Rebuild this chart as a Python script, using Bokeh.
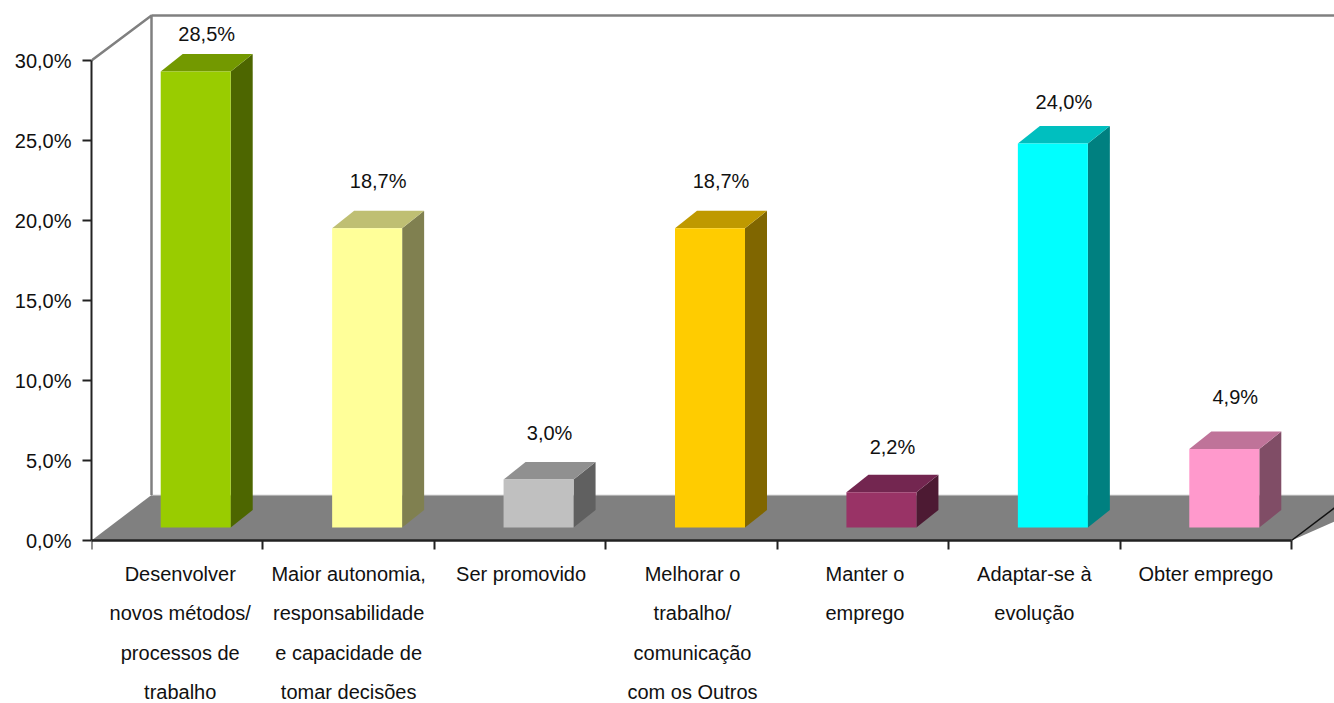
from bokeh.plotting import figure
from bokeh.embed import file_html
from bokeh.resources import INLINE
from bokeh.models import Range1d, LinearAxis, FixedTicker, Label
from bokeh.core.properties import value

# ---- data ----
categories = [
    "Desenvolver\nnovos métodos/\nprocessos de\ntrabalho",
    "Maior autonomia,\nresponsabilidade\ne capacidade de\ntomar decisões",
    "Ser promovido",
    "Melhorar o\ntrabalho/\ncomunicação\ncom os Outros",
    "Manter o\nemprego",
    "Adaptar-se à\nevolução",
    "Obter emprego",
]
values = [28.5, 18.7, 3.0, 18.7, 2.2, 24.0, 4.9]
value_labels = ["28,5%", "18,7%", "3,0%", "18,7%", "2,2%", "24,0%", "4,9%"]
y_ticks = [0, 5, 10, 15, 20, 25, 30]
y_tick_labels = ["0,0%", "5,0%", "10,0%", "15,0%", "20,0%", "25,0%", "30,0%"]
front_colors = ["#99CC00", "#FFFF99", "#C0C0C0", "#FFCC00", "#993366", "#00FFFF", "#FF99CC"]
top_colors = ["#739900", "#BFBF73", "#909090", "#BF9900", "#732650", "#00BFBF", "#BF7399"]
side_colors = ["#4D6600", "#808050", "#606060", "#806600", "#4D1A33", "#008080", "#804D66"]

# ---- layout (pixels) ----
W, H = 1334, 703
AX_L, AX_B = 91, 540
PX_Y = 16.0            # pixels per percentage point
PX_CAT = 1200 / 7      # pixels per category
FONT = "Liberation Sans"
FS = "20px"
LINE_STEP = 39.5
ux = 1 / PX_CAT
uy = 1 / PX_Y
DX, DY = 60 * ux, 45.5 * uy          # chart depth
BAR_DX, BAR_DY = 22 * ux, 17.5 * uy  # bar depth
BAR_W = 70 * ux
BAR_SHIFT = 18.5 * ux
BAR_BASE = 13 * uy
label_lift = [20, 30, 29, 30, 28, 24, 35]   # px above the bar's back top edge
label_dx = [3, 0, 1, 1, 2, 0, 0]            # px, category label nudge

n = len(values)
xmax = (W - AX_L) * ux
ymax = AX_B * uy
ymin = -(H - AX_B) * uy

p = figure(width=W, height=H, output_backend="svg", toolbar_location=None,
           x_range=Range1d(0, xmax), y_range=Range1d(ymin, ymax),
           x_axis_location=None, y_axis_location=None,
           min_border_left=AX_L, min_border_right=0, min_border_top=0,
           min_border_bottom=0, outline_line_color=None,
           background_fill_color="white", border_fill_color="white")
p.grid.visible = False

# floor and walls
p.patch([0, DX, xmax + DX, n], [0, DY, DY, 0], fill_color="#808080", line_color=None)
p.line([DX, xmax + DX], [DY, DY], line_color="#DDDDDD", line_width=1)
p.line([0, DX, DX], [30, 30 + 45 * uy, DY], line_color="#808080", line_width=2.5)
p.line([DX, xmax + DX], [30 + 45 * uy, 30 + 45 * uy], line_color="#808080", line_width=2.5)
p.line([n, n + DX], [0, DY], line_color="#111111", line_width=1.5)

# bars
for i, v in enumerate(values):
    x0 = i + 0.5 - BAR_W / 2 + BAR_SHIFT
    x1 = x0 + BAR_W
    b = BAR_BASE
    t = b + v
    p.patch([x1, x1 + BAR_DX, x1 + BAR_DX, x1], [b, b + BAR_DY, t + BAR_DY, t],
            fill_color=side_colors[i], line_color=None)
    p.patch([x0, x1, x1 + BAR_DX, x0 + BAR_DX], [t, t, t + BAR_DY, t + BAR_DY],
            fill_color=top_colors[i], line_color=None)
    p.quad(left=x0, right=x1, bottom=b, top=t, fill_color=front_colors[i], line_color=None)
    p.add_layout(Label(x=(x0 + x1 + BAR_DX) / 2, y=t + BAR_DY + label_lift[i] * uy,
                       text=value_labels[i], text_align="center", text_baseline="middle",
                       text_font=FONT, text_font_size=FS, text_color="#111111"))

# axes
left = LinearAxis(ticker=FixedTicker(ticks=y_ticks),
                  major_label_overrides={t: s for t, s in zip(y_ticks, y_tick_labels)},
                  major_label_text_font=FONT, major_label_text_font_size=FS,
                  major_label_text_color="#111111", major_tick_in=0, major_tick_out=9,
                  major_tick_line_color="#222222", major_tick_line_width=2,
                  minor_tick_line_color=None, axis_line_color="#222222", axis_line_width=2,
                  major_label_standoff=11, bounds=(0, 30))
p.add_layout(left, "left")

# category axis: sits on the zero line, ticks point down, it takes no room in the panel above
bottom = LinearAxis(ticker=FixedTicker(ticks=list(range(n + 1))), fixed_location=0,
                    major_label_overrides={t: "" for t in range(n + 1)},
                    major_tick_in=9, major_tick_out=0, major_label_standoff=0,
                    major_tick_line_color="#222222", major_tick_line_width=2,
                    minor_tick_line_color=None, axis_line_color="#222222", axis_line_width=2.5,
                    bounds=(0, n))
p.add_layout(bottom, "above")

# category labels, one row per line
cx, cy, ct = [], [], []
for i, c in enumerate(categories):
    for k, line in enumerate(c.split("\n")):
        cx.append(i + 0.5 + label_dx[i] * ux)
        cy.append(-(33 + k * LINE_STEP) * uy)
        ct.append(line)
p.text(x=cx, y=cy, text=ct, text_align="center", text_baseline="middle",
       text_font=value(FONT), text_font_size=value(FS), text_color="#111111")

open("out.html", "w").write(file_html(p, INLINE))
